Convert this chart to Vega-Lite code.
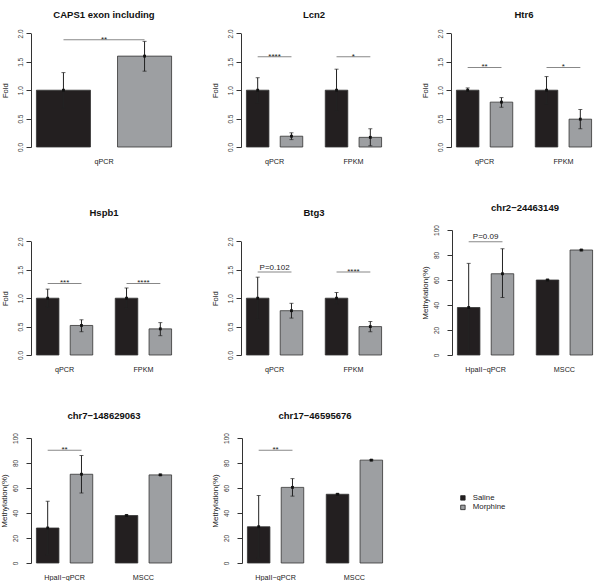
{
  "$schema": "https://vega.github.io/schema/vega-lite/v6.json",
  "padding": {"top": 9, "left": 0, "right": 0, "bottom": 0},
  "background": "white",
  "spacing": 37,
  "resolve": {"scale": {"x": "independent", "y": "independent", "xOffset": "independent", "color": "shared"}},
  "datasets": {
    "bars": [
      {"panel": "caps", "group": "qPCR", "trt": "Saline", "mean": 1.0, "lo": 0.69, "hi": 1.31},
      {"panel": "caps", "group": "qPCR", "trt": "Morphine", "mean": 1.6, "lo": 1.335, "hi": 1.86},
      {"panel": "lcn2", "group": "qPCR", "trt": "Saline", "mean": 1.0, "lo": 0.78, "hi": 1.22},
      {"panel": "lcn2", "group": "qPCR", "trt": "Morphine", "mean": 0.19, "lo": 0.13, "hi": 0.25},
      {"panel": "lcn2", "group": "FPKM", "trt": "Saline", "mean": 1.0, "lo": 0.63, "hi": 1.37},
      {"panel": "lcn2", "group": "FPKM", "trt": "Morphine", "mean": 0.17, "lo": 0.02, "hi": 0.32},
      {"panel": "htr6", "group": "qPCR", "trt": "Saline", "mean": 1.0, "lo": 0.96, "hi": 1.04},
      {"panel": "htr6", "group": "qPCR", "trt": "Morphine", "mean": 0.79, "lo": 0.7, "hi": 0.87},
      {"panel": "htr6", "group": "FPKM", "trt": "Saline", "mean": 1.0, "lo": 0.76, "hi": 1.24},
      {"panel": "htr6", "group": "FPKM", "trt": "Morphine", "mean": 0.49, "lo": 0.32, "hi": 0.66},
      {"panel": "hspb1", "group": "qPCR", "trt": "Saline", "mean": 1.0, "lo": 0.84, "hi": 1.16},
      {"panel": "hspb1", "group": "qPCR", "trt": "Morphine", "mean": 0.52, "lo": 0.41, "hi": 0.62},
      {"panel": "hspb1", "group": "FPKM", "trt": "Saline", "mean": 1.0, "lo": 0.82, "hi": 1.18},
      {"panel": "hspb1", "group": "FPKM", "trt": "Morphine", "mean": 0.46, "lo": 0.34, "hi": 0.57},
      {"panel": "btg3", "group": "qPCR", "trt": "Saline", "mean": 1.0, "lo": 0.63, "hi": 1.37},
      {"panel": "btg3", "group": "qPCR", "trt": "Morphine", "mean": 0.78, "lo": 0.65, "hi": 0.91},
      {"panel": "btg3", "group": "FPKM", "trt": "Saline", "mean": 1.0, "lo": 0.9, "hi": 1.1},
      {"panel": "btg3", "group": "FPKM", "trt": "Morphine", "mean": 0.5, "lo": 0.41, "hi": 0.59},
      {"panel": "chr2", "group": "HpaII−qPCR", "trt": "Saline", "mean": 38, "lo": 2.7, "hi": 73.3},
      {"panel": "chr2", "group": "HpaII−qPCR", "trt": "Morphine", "mean": 65, "lo": 46, "hi": 85},
      {"panel": "chr2", "group": "MSCC", "trt": "Saline", "mean": 60, "lo": 59.5, "hi": 60.5},
      {"panel": "chr2", "group": "MSCC", "trt": "Morphine", "mean": 84, "lo": 83.5, "hi": 84.5},
      {"panel": "chr7", "group": "HpaII−qPCR", "trt": "Saline", "mean": 28, "lo": 6.6, "hi": 49.4},
      {"panel": "chr7", "group": "HpaII−qPCR", "trt": "Morphine", "mean": 71, "lo": 56, "hi": 86},
      {"panel": "chr7", "group": "MSCC", "trt": "Saline", "mean": 38, "lo": 37.6, "hi": 38.4},
      {"panel": "chr7", "group": "MSCC", "trt": "Morphine", "mean": 70.5, "lo": 70, "hi": 71},
      {"panel": "chr17", "group": "HpaII−qPCR", "trt": "Saline", "mean": 29, "lo": 4, "hi": 54},
      {"panel": "chr17", "group": "HpaII−qPCR", "trt": "Morphine", "mean": 60.5, "lo": 53.5, "hi": 67.5},
      {"panel": "chr17", "group": "MSCC", "trt": "Saline", "mean": 55, "lo": 54.6, "hi": 55.4},
      {"panel": "chr17", "group": "MSCC", "trt": "Morphine", "mean": 82.3, "lo": 81.8, "hi": 82.8}
    ],
    "sig": [
      {"panel": "caps", "group": "qPCR", "y": 1.89, "label": "**", "kind": "s"},
      {"panel": "lcn2", "group": "qPCR", "y": 1.59, "label": "****", "kind": "s"},
      {"panel": "lcn2", "group": "FPKM", "y": 1.59, "label": "*", "kind": "s"},
      {"panel": "htr6", "group": "qPCR", "y": 1.4, "label": "**", "kind": "s"},
      {"panel": "htr6", "group": "FPKM", "y": 1.4, "label": "*", "kind": "s"},
      {"panel": "hspb1", "group": "qPCR", "y": 1.26, "label": "***", "kind": "s"},
      {"panel": "hspb1", "group": "FPKM", "y": 1.26, "label": "****", "kind": "s"},
      {"panel": "btg3", "group": "qPCR", "y": 1.46, "label": "P=0.102", "kind": "p"},
      {"panel": "btg3", "group": "FPKM", "y": 1.46, "label": "****", "kind": "s"},
      {"panel": "chr2", "group": "HpaII−qPCR", "y": 90.6, "label": "P=0.09", "kind": "p"},
      {"panel": "chr7", "group": "HpaII−qPCR", "y": 90.3, "label": "**", "kind": "s"},
      {"panel": "chr17", "group": "HpaII−qPCR", "y": 90.3, "label": "**", "kind": "s"}
    ]
  },
  "config": {
    "view": {"stroke": null},
    "font": "Liberation Sans",
    "title": {"fontSize": 9.5, "fontWeight": "bold", "font": "Liberation Sans", "color": "#111", "offset": 12.5},
    "axis": {"labelOverlap": false},
    "axisX": {"domain": false, "ticks": false, "tickSize": 0, "labelPadding": 10, "labelFontSize": 7.2, "labelAngle": 0, "labelColor": "#1a1a1a", "labelFont": "Liberation Sans"},
    "axisY": {"grid": false, "labelAngle": 270, "labelAlign": "center", "labelBaseline": "bottom", "labelOverlap": false, "labelFontSize": 6.5, "labelPadding": 3, "tickSize": 5, "minExtent": 16, "maxExtent": 16, "tickColor": "#333", "domainColor": "#333", "labelColor": "#333", "labelFont": "Liberation Sans", "titleFont": "Liberation Sans", "titleFontSize": 7.5, "titleFontWeight": "normal", "titleColor": "#1a1a1a", "titlePadding": 6},
    "legend": {"orient": "none", "legendX": 428, "legendY": 472, "symbolType": "square", "symbolSize": 20, "symbolStrokeWidth": 0.8, "symbolStrokeColor": "#222", "labelFontSize": 7.8, "labelFont": "Liberation Sans", "labelColor": "#1a1a1a", "rowPadding": 0.5, "labelOffset": 6, "padding": 0},
    "concat": {"spacing": 34}
  },
  "vconcat": [
    {"spacing": 34, "resolve": {"scale": {"x": "independent", "y": "independent", "xOffset": "independent", "color": "shared"}}, "hconcat": [
      {"title": {"text": "CAPS1 exon including", "offset": 3}, "width": 146, "height": 125,
       "encoding": {"x": {"field": "group", "type": "nominal", "title": null, "scale": {"domain": ["qPCR"], "paddingInner": 0, "paddingOuter": 0.04}}},
       "layer": [
        {"data": {"name": "bars"}, "transform": [{"filter": "datum.panel === 'caps'"}], "layer": [
          {"mark": {"type": "bar", "stroke": "#333", "strokeWidth": 0.8}, "encoding": {"xOffset": {"field": "trt", "type": "nominal", "scale": {"domain": ["Saline", "Morphine"], "paddingInner": 0.3333, "paddingOuter": 0}}, "y": {"field": "mean", "type": "quantitative", "title": "Fold", "scale": {"domain": [0, 2], "range": [125, 11.4], "nice": false}, "axis": {"values": [0, 0.5, 1, 1.5, 2], "format": ".1f", "labelOverlap": false}}, "color": {"field": "trt", "type": "nominal", "scale": {"domain": ["Saline", "Morphine"], "range": ["#231f20", "#9d9fa2"]}, "legend": {"title": null}}}},
          {"mark": {"type": "rule", "color": "#222", "strokeWidth": 1}, "encoding": {"xOffset": {"field": "trt", "type": "nominal", "scale": {"domain": ["Saline", "Morphine"], "paddingInner": 0.3333, "paddingOuter": 0}}, "y": {"field": "lo", "type": "quantitative", "title": "Fold", "scale": {"domain": [0, 2], "range": [125, 11.4], "nice": false}, "axis": {"values": [0, 0.5, 1, 1.5, 2], "format": ".1f", "labelOverlap": false}}, "y2": {"field": "hi"}}},
          {"mark": {"type": "tick", "color": "#222", "size": 4, "thickness": 1}, "encoding": {"xOffset": {"field": "trt", "type": "nominal", "scale": {"domain": ["Saline", "Morphine"], "paddingInner": 0.3333, "paddingOuter": 0}}, "y": {"field": "lo", "type": "quantitative", "title": "Fold", "scale": {"domain": [0, 2], "range": [125, 11.4], "nice": false}, "axis": {"values": [0, 0.5, 1, 1.5, 2], "format": ".1f", "labelOverlap": false}}}},
          {"mark": {"type": "tick", "color": "#222", "size": 4, "thickness": 1}, "encoding": {"xOffset": {"field": "trt", "type": "nominal", "scale": {"domain": ["Saline", "Morphine"], "paddingInner": 0.3333, "paddingOuter": 0}}, "y": {"field": "hi", "type": "quantitative", "title": "Fold", "scale": {"domain": [0, 2], "range": [125, 11.4], "nice": false}, "axis": {"values": [0, 0.5, 1, 1.5, 2], "format": ".1f", "labelOverlap": false}}}},
          {"mark": {"type": "point", "shape": "square", "filled": true, "size": 8, "color": "#111", "opacity": 1}, "encoding": {"xOffset": {"field": "trt", "type": "nominal", "scale": {"domain": ["Saline", "Morphine"], "paddingInner": 0.3333, "paddingOuter": 0}}, "y": {"field": "mean", "type": "quantitative", "title": "Fold", "scale": {"domain": [0, 2], "range": [125, 11.4], "nice": false}, "axis": {"values": [0, 0.5, 1, 1.5, 2], "format": ".1f", "labelOverlap": false}}}}
        ]},
        {"data": {"name": "sig"}, "transform": [{"filter": "datum.panel === 'caps'"}], "layer": [
          {"mark": {"type": "tick", "color": "#555", "size": 81, "thickness": 1}, "encoding": {"y": {"field": "y", "type": "quantitative", "title": "Fold", "scale": {"domain": [0, 2], "range": [125, 11.4], "nice": false}, "axis": {"values": [0, 0.5, 1, 1.5, 2], "format": ".1f", "labelOverlap": false}}}},
          {"transform": [{"filter": "datum.kind === 's'"}], "mark": {"type": "text", "fontSize": 8, "dy": 2, "baseline": "alphabetic", "color": "#222"}, "encoding": {"y": {"field": "y", "type": "quantitative", "title": "Fold", "scale": {"domain": [0, 2], "range": [125, 11.4], "nice": false}, "axis": {"values": [0, 0.5, 1, 1.5, 2], "format": ".1f", "labelOverlap": false}}, "text": {"field": "label"}}}
        ]}
       ]},
      {"title": {"text": "Lcn2", "offset": 3}, "width": 146, "height": 125,
       "encoding": {"x": {"field": "group", "type": "nominal", "title": null, "scale": {"domain": ["qPCR", "FPKM"], "paddingInner": 0.2857, "paddingOuter": 0.0686}}},
       "layer": [
        {"data": {"name": "bars"}, "transform": [{"filter": "datum.panel === 'lcn2'"}], "layer": [
          {"mark": {"type": "bar", "stroke": "#333", "strokeWidth": 0.8}, "encoding": {"xOffset": {"field": "trt", "type": "nominal", "scale": {"domain": ["Saline", "Morphine"], "paddingInner": 0.3333, "paddingOuter": 0}}, "y": {"field": "mean", "type": "quantitative", "title": "Fold", "scale": {"domain": [0, 2], "range": [125, 11.4], "nice": false}, "axis": {"values": [0, 0.5, 1, 1.5, 2], "format": ".1f", "labelOverlap": false}}, "color": {"field": "trt", "type": "nominal", "scale": {"domain": ["Saline", "Morphine"], "range": ["#231f20", "#9d9fa2"]}, "legend": {"title": null}}}},
          {"mark": {"type": "rule", "color": "#222", "strokeWidth": 1}, "encoding": {"xOffset": {"field": "trt", "type": "nominal", "scale": {"domain": ["Saline", "Morphine"], "paddingInner": 0.3333, "paddingOuter": 0}}, "y": {"field": "lo", "type": "quantitative", "title": "Fold", "scale": {"domain": [0, 2], "range": [125, 11.4], "nice": false}, "axis": {"values": [0, 0.5, 1, 1.5, 2], "format": ".1f", "labelOverlap": false}}, "y2": {"field": "hi"}}},
          {"mark": {"type": "tick", "color": "#222", "size": 4, "thickness": 1}, "encoding": {"xOffset": {"field": "trt", "type": "nominal", "scale": {"domain": ["Saline", "Morphine"], "paddingInner": 0.3333, "paddingOuter": 0}}, "y": {"field": "lo", "type": "quantitative", "title": "Fold", "scale": {"domain": [0, 2], "range": [125, 11.4], "nice": false}, "axis": {"values": [0, 0.5, 1, 1.5, 2], "format": ".1f", "labelOverlap": false}}}},
          {"mark": {"type": "tick", "color": "#222", "size": 4, "thickness": 1}, "encoding": {"xOffset": {"field": "trt", "type": "nominal", "scale": {"domain": ["Saline", "Morphine"], "paddingInner": 0.3333, "paddingOuter": 0}}, "y": {"field": "hi", "type": "quantitative", "title": "Fold", "scale": {"domain": [0, 2], "range": [125, 11.4], "nice": false}, "axis": {"values": [0, 0.5, 1, 1.5, 2], "format": ".1f", "labelOverlap": false}}}},
          {"mark": {"type": "point", "shape": "square", "filled": true, "size": 8, "color": "#111", "opacity": 1}, "encoding": {"xOffset": {"field": "trt", "type": "nominal", "scale": {"domain": ["Saline", "Morphine"], "paddingInner": 0.3333, "paddingOuter": 0}}, "y": {"field": "mean", "type": "quantitative", "title": "Fold", "scale": {"domain": [0, 2], "range": [125, 11.4], "nice": false}, "axis": {"values": [0, 0.5, 1, 1.5, 2], "format": ".1f", "labelOverlap": false}}}}
        ]},
        {"data": {"name": "sig"}, "transform": [{"filter": "datum.panel === 'lcn2'"}], "layer": [
          {"mark": {"type": "tick", "color": "#555", "size": 33.8, "thickness": 1}, "encoding": {"y": {"field": "y", "type": "quantitative", "title": "Fold", "scale": {"domain": [0, 2], "range": [125, 11.4], "nice": false}, "axis": {"values": [0, 0.5, 1, 1.5, 2], "format": ".1f", "labelOverlap": false}}}},
          {"transform": [{"filter": "datum.kind === 's'"}], "mark": {"type": "text", "fontSize": 8, "dy": 2, "baseline": "alphabetic", "color": "#222"}, "encoding": {"y": {"field": "y", "type": "quantitative", "title": "Fold", "scale": {"domain": [0, 2], "range": [125, 11.4], "nice": false}, "axis": {"values": [0, 0.5, 1, 1.5, 2], "format": ".1f", "labelOverlap": false}}, "text": {"field": "label"}}}
        ]}
       ]},
      {"title": {"text": "Htr6", "offset": 3}, "width": 146, "height": 125,
       "encoding": {"x": {"field": "group", "type": "nominal", "title": null, "scale": {"domain": ["qPCR", "FPKM"], "paddingInner": 0.2857, "paddingOuter": 0.0686}}},
       "layer": [
        {"data": {"name": "bars"}, "transform": [{"filter": "datum.panel === 'htr6'"}], "layer": [
          {"mark": {"type": "bar", "stroke": "#333", "strokeWidth": 0.8}, "encoding": {"xOffset": {"field": "trt", "type": "nominal", "scale": {"domain": ["Saline", "Morphine"], "paddingInner": 0.3333, "paddingOuter": 0}}, "y": {"field": "mean", "type": "quantitative", "title": "Fold", "scale": {"domain": [0, 2], "range": [125, 11.4], "nice": false}, "axis": {"values": [0, 0.5, 1, 1.5, 2], "format": ".1f", "labelOverlap": false}}, "color": {"field": "trt", "type": "nominal", "scale": {"domain": ["Saline", "Morphine"], "range": ["#231f20", "#9d9fa2"]}, "legend": {"title": null}}}},
          {"mark": {"type": "rule", "color": "#222", "strokeWidth": 1}, "encoding": {"xOffset": {"field": "trt", "type": "nominal", "scale": {"domain": ["Saline", "Morphine"], "paddingInner": 0.3333, "paddingOuter": 0}}, "y": {"field": "lo", "type": "quantitative", "title": "Fold", "scale": {"domain": [0, 2], "range": [125, 11.4], "nice": false}, "axis": {"values": [0, 0.5, 1, 1.5, 2], "format": ".1f", "labelOverlap": false}}, "y2": {"field": "hi"}}},
          {"mark": {"type": "tick", "color": "#222", "size": 4, "thickness": 1}, "encoding": {"xOffset": {"field": "trt", "type": "nominal", "scale": {"domain": ["Saline", "Morphine"], "paddingInner": 0.3333, "paddingOuter": 0}}, "y": {"field": "lo", "type": "quantitative", "title": "Fold", "scale": {"domain": [0, 2], "range": [125, 11.4], "nice": false}, "axis": {"values": [0, 0.5, 1, 1.5, 2], "format": ".1f", "labelOverlap": false}}}},
          {"mark": {"type": "tick", "color": "#222", "size": 4, "thickness": 1}, "encoding": {"xOffset": {"field": "trt", "type": "nominal", "scale": {"domain": ["Saline", "Morphine"], "paddingInner": 0.3333, "paddingOuter": 0}}, "y": {"field": "hi", "type": "quantitative", "title": "Fold", "scale": {"domain": [0, 2], "range": [125, 11.4], "nice": false}, "axis": {"values": [0, 0.5, 1, 1.5, 2], "format": ".1f", "labelOverlap": false}}}},
          {"mark": {"type": "point", "shape": "square", "filled": true, "size": 8, "color": "#111", "opacity": 1}, "encoding": {"xOffset": {"field": "trt", "type": "nominal", "scale": {"domain": ["Saline", "Morphine"], "paddingInner": 0.3333, "paddingOuter": 0}}, "y": {"field": "mean", "type": "quantitative", "title": "Fold", "scale": {"domain": [0, 2], "range": [125, 11.4], "nice": false}, "axis": {"values": [0, 0.5, 1, 1.5, 2], "format": ".1f", "labelOverlap": false}}}}
        ]},
        {"data": {"name": "sig"}, "transform": [{"filter": "datum.panel === 'htr6'"}], "layer": [
          {"mark": {"type": "tick", "color": "#555", "size": 33.8, "thickness": 1}, "encoding": {"y": {"field": "y", "type": "quantitative", "title": "Fold", "scale": {"domain": [0, 2], "range": [125, 11.4], "nice": false}, "axis": {"values": [0, 0.5, 1, 1.5, 2], "format": ".1f", "labelOverlap": false}}}},
          {"transform": [{"filter": "datum.kind === 's'"}], "mark": {"type": "text", "fontSize": 8, "dy": 2, "baseline": "alphabetic", "color": "#222"}, "encoding": {"y": {"field": "y", "type": "quantitative", "title": "Fold", "scale": {"domain": [0, 2], "range": [125, 11.4], "nice": false}, "axis": {"values": [0, 0.5, 1, 1.5, 2], "format": ".1f", "labelOverlap": false}}, "text": {"field": "label"}}}
        ]}
       ]}
    ]},
    {"spacing": 37, "resolve": {"scale": {"x": "independent", "y": "independent", "xOffset": "independent", "color": "shared"}}, "vconcat": [
    {"spacing": 34, "resolve": {"scale": {"x": "independent", "y": "independent", "xOffset": "independent", "color": "shared"}}, "hconcat": [
      {"title": {"text": "Hspb1"}, "width": 146, "height": 125,
       "encoding": {"x": {"field": "group", "type": "nominal", "title": null, "scale": {"domain": ["qPCR", "FPKM"], "paddingInner": 0.2857, "paddingOuter": 0.0686}}},
       "layer": [
        {"data": {"name": "bars"}, "transform": [{"filter": "datum.panel === 'hspb1'"}], "layer": [
          {"mark": {"type": "bar", "stroke": "#333", "strokeWidth": 0.8}, "encoding": {"xOffset": {"field": "trt", "type": "nominal", "scale": {"domain": ["Saline", "Morphine"], "paddingInner": 0.3333, "paddingOuter": 0}}, "y": {"field": "mean", "type": "quantitative", "title": "Fold", "scale": {"domain": [0, 2], "range": [125, 11.4], "nice": false}, "axis": {"values": [0, 0.5, 1, 1.5, 2], "format": ".1f", "labelOverlap": false}}, "color": {"field": "trt", "type": "nominal", "scale": {"domain": ["Saline", "Morphine"], "range": ["#231f20", "#9d9fa2"]}, "legend": {"title": null}}}},
          {"mark": {"type": "rule", "color": "#222", "strokeWidth": 1}, "encoding": {"xOffset": {"field": "trt", "type": "nominal", "scale": {"domain": ["Saline", "Morphine"], "paddingInner": 0.3333, "paddingOuter": 0}}, "y": {"field": "lo", "type": "quantitative", "title": "Fold", "scale": {"domain": [0, 2], "range": [125, 11.4], "nice": false}, "axis": {"values": [0, 0.5, 1, 1.5, 2], "format": ".1f", "labelOverlap": false}}, "y2": {"field": "hi"}}},
          {"mark": {"type": "tick", "color": "#222", "size": 4, "thickness": 1}, "encoding": {"xOffset": {"field": "trt", "type": "nominal", "scale": {"domain": ["Saline", "Morphine"], "paddingInner": 0.3333, "paddingOuter": 0}}, "y": {"field": "lo", "type": "quantitative", "title": "Fold", "scale": {"domain": [0, 2], "range": [125, 11.4], "nice": false}, "axis": {"values": [0, 0.5, 1, 1.5, 2], "format": ".1f", "labelOverlap": false}}}},
          {"mark": {"type": "tick", "color": "#222", "size": 4, "thickness": 1}, "encoding": {"xOffset": {"field": "trt", "type": "nominal", "scale": {"domain": ["Saline", "Morphine"], "paddingInner": 0.3333, "paddingOuter": 0}}, "y": {"field": "hi", "type": "quantitative", "title": "Fold", "scale": {"domain": [0, 2], "range": [125, 11.4], "nice": false}, "axis": {"values": [0, 0.5, 1, 1.5, 2], "format": ".1f", "labelOverlap": false}}}},
          {"mark": {"type": "point", "shape": "square", "filled": true, "size": 8, "color": "#111", "opacity": 1}, "encoding": {"xOffset": {"field": "trt", "type": "nominal", "scale": {"domain": ["Saline", "Morphine"], "paddingInner": 0.3333, "paddingOuter": 0}}, "y": {"field": "mean", "type": "quantitative", "title": "Fold", "scale": {"domain": [0, 2], "range": [125, 11.4], "nice": false}, "axis": {"values": [0, 0.5, 1, 1.5, 2], "format": ".1f", "labelOverlap": false}}}}
        ]},
        {"data": {"name": "sig"}, "transform": [{"filter": "datum.panel === 'hspb1'"}], "layer": [
          {"mark": {"type": "tick", "color": "#555", "size": 33.8, "thickness": 1}, "encoding": {"y": {"field": "y", "type": "quantitative", "title": "Fold", "scale": {"domain": [0, 2], "range": [125, 11.4], "nice": false}, "axis": {"values": [0, 0.5, 1, 1.5, 2], "format": ".1f", "labelOverlap": false}}}},
          {"transform": [{"filter": "datum.kind === 's'"}], "mark": {"type": "text", "fontSize": 8, "dy": 2, "baseline": "alphabetic", "color": "#222"}, "encoding": {"y": {"field": "y", "type": "quantitative", "title": "Fold", "scale": {"domain": [0, 2], "range": [125, 11.4], "nice": false}, "axis": {"values": [0, 0.5, 1, 1.5, 2], "format": ".1f", "labelOverlap": false}}, "text": {"field": "label"}}}
        ]}
       ]},
      {"title": {"text": "Btg3"}, "width": 146, "height": 125,
       "encoding": {"x": {"field": "group", "type": "nominal", "title": null, "scale": {"domain": ["qPCR", "FPKM"], "paddingInner": 0.2857, "paddingOuter": 0.0686}}},
       "layer": [
        {"data": {"name": "bars"}, "transform": [{"filter": "datum.panel === 'btg3'"}], "layer": [
          {"mark": {"type": "bar", "stroke": "#333", "strokeWidth": 0.8}, "encoding": {"xOffset": {"field": "trt", "type": "nominal", "scale": {"domain": ["Saline", "Morphine"], "paddingInner": 0.3333, "paddingOuter": 0}}, "y": {"field": "mean", "type": "quantitative", "title": "Fold", "scale": {"domain": [0, 2], "range": [125, 11.4], "nice": false}, "axis": {"values": [0, 0.5, 1, 1.5, 2], "format": ".1f", "labelOverlap": false}}, "color": {"field": "trt", "type": "nominal", "scale": {"domain": ["Saline", "Morphine"], "range": ["#231f20", "#9d9fa2"]}, "legend": {"title": null}}}},
          {"mark": {"type": "rule", "color": "#222", "strokeWidth": 1}, "encoding": {"xOffset": {"field": "trt", "type": "nominal", "scale": {"domain": ["Saline", "Morphine"], "paddingInner": 0.3333, "paddingOuter": 0}}, "y": {"field": "lo", "type": "quantitative", "title": "Fold", "scale": {"domain": [0, 2], "range": [125, 11.4], "nice": false}, "axis": {"values": [0, 0.5, 1, 1.5, 2], "format": ".1f", "labelOverlap": false}}, "y2": {"field": "hi"}}},
          {"mark": {"type": "tick", "color": "#222", "size": 4, "thickness": 1}, "encoding": {"xOffset": {"field": "trt", "type": "nominal", "scale": {"domain": ["Saline", "Morphine"], "paddingInner": 0.3333, "paddingOuter": 0}}, "y": {"field": "lo", "type": "quantitative", "title": "Fold", "scale": {"domain": [0, 2], "range": [125, 11.4], "nice": false}, "axis": {"values": [0, 0.5, 1, 1.5, 2], "format": ".1f", "labelOverlap": false}}}},
          {"mark": {"type": "tick", "color": "#222", "size": 4, "thickness": 1}, "encoding": {"xOffset": {"field": "trt", "type": "nominal", "scale": {"domain": ["Saline", "Morphine"], "paddingInner": 0.3333, "paddingOuter": 0}}, "y": {"field": "hi", "type": "quantitative", "title": "Fold", "scale": {"domain": [0, 2], "range": [125, 11.4], "nice": false}, "axis": {"values": [0, 0.5, 1, 1.5, 2], "format": ".1f", "labelOverlap": false}}}},
          {"mark": {"type": "point", "shape": "square", "filled": true, "size": 8, "color": "#111", "opacity": 1}, "encoding": {"xOffset": {"field": "trt", "type": "nominal", "scale": {"domain": ["Saline", "Morphine"], "paddingInner": 0.3333, "paddingOuter": 0}}, "y": {"field": "mean", "type": "quantitative", "title": "Fold", "scale": {"domain": [0, 2], "range": [125, 11.4], "nice": false}, "axis": {"values": [0, 0.5, 1, 1.5, 2], "format": ".1f", "labelOverlap": false}}}}
        ]},
        {"data": {"name": "sig"}, "transform": [{"filter": "datum.panel === 'btg3'"}], "layer": [
          {"mark": {"type": "tick", "color": "#555", "size": 33.8, "thickness": 1}, "encoding": {"y": {"field": "y", "type": "quantitative", "title": "Fold", "scale": {"domain": [0, 2], "range": [125, 11.4], "nice": false}, "axis": {"values": [0, 0.5, 1, 1.5, 2], "format": ".1f", "labelOverlap": false}}}},
          {"transform": [{"filter": "datum.kind === 's'"}], "mark": {"type": "text", "fontSize": 8, "dy": 2, "baseline": "alphabetic", "color": "#222"}, "encoding": {"y": {"field": "y", "type": "quantitative", "title": "Fold", "scale": {"domain": [0, 2], "range": [125, 11.4], "nice": false}, "axis": {"values": [0, 0.5, 1, 1.5, 2], "format": ".1f", "labelOverlap": false}}, "text": {"field": "label"}}},
          {"transform": [{"filter": "datum.kind === 'p'"}], "mark": {"type": "text", "fontSize": 8, "dy": -2.5, "baseline": "alphabetic", "color": "#222"}, "encoding": {"y": {"field": "y", "type": "quantitative", "title": "Fold", "scale": {"domain": [0, 2], "range": [125, 11.4], "nice": false}, "axis": {"values": [0, 0.5, 1, 1.5, 2], "format": ".1f", "labelOverlap": false}}, "text": {"field": "label"}}}
        ]}
       ]},
      {"title": {"text": "chr2−24463149"}, "width": 146, "height": 125,
       "encoding": {"x": {"field": "group", "type": "nominal", "title": null, "scale": {"domain": ["HpaII−qPCR", "MSCC"], "paddingInner": 0.2857, "paddingOuter": 0.0686}}},
       "layer": [
        {"data": {"name": "bars"}, "transform": [{"filter": "datum.panel === 'chr2'"}], "layer": [
          {"mark": {"type": "bar", "stroke": "#333", "strokeWidth": 0.8}, "encoding": {"xOffset": {"field": "trt", "type": "nominal", "scale": {"domain": ["Saline", "Morphine"], "paddingInner": 0.3333, "paddingOuter": 0}}, "y": {"field": "mean", "type": "quantitative", "title": "Methylation(%)", "scale": {"domain": [0, 100], "nice": false}, "axis": {"values": [0, 20, 40, 60, 80, 100], "titleFontSize": 8, "labelOverlap": false, "labelPadding": 7.5, "minExtent": 20, "maxExtent": 20, "titlePadding": 3}}, "color": {"field": "trt", "type": "nominal", "scale": {"domain": ["Saline", "Morphine"], "range": ["#231f20", "#9d9fa2"]}, "legend": {"title": null}}}},
          {"mark": {"type": "rule", "color": "#222", "strokeWidth": 1}, "encoding": {"xOffset": {"field": "trt", "type": "nominal", "scale": {"domain": ["Saline", "Morphine"], "paddingInner": 0.3333, "paddingOuter": 0}}, "y": {"field": "lo", "type": "quantitative", "title": "Methylation(%)", "scale": {"domain": [0, 100], "nice": false}, "axis": {"values": [0, 20, 40, 60, 80, 100], "titleFontSize": 8, "labelOverlap": false, "labelPadding": 7.5, "minExtent": 20, "maxExtent": 20, "titlePadding": 3}}, "y2": {"field": "hi"}}},
          {"mark": {"type": "tick", "color": "#222", "size": 4, "thickness": 1}, "encoding": {"xOffset": {"field": "trt", "type": "nominal", "scale": {"domain": ["Saline", "Morphine"], "paddingInner": 0.3333, "paddingOuter": 0}}, "y": {"field": "lo", "type": "quantitative", "title": "Methylation(%)", "scale": {"domain": [0, 100], "nice": false}, "axis": {"values": [0, 20, 40, 60, 80, 100], "titleFontSize": 8, "labelOverlap": false, "labelPadding": 7.5, "minExtent": 20, "maxExtent": 20, "titlePadding": 3}}}},
          {"mark": {"type": "tick", "color": "#222", "size": 4, "thickness": 1}, "encoding": {"xOffset": {"field": "trt", "type": "nominal", "scale": {"domain": ["Saline", "Morphine"], "paddingInner": 0.3333, "paddingOuter": 0}}, "y": {"field": "hi", "type": "quantitative", "title": "Methylation(%)", "scale": {"domain": [0, 100], "nice": false}, "axis": {"values": [0, 20, 40, 60, 80, 100], "titleFontSize": 8, "labelOverlap": false, "labelPadding": 7.5, "minExtent": 20, "maxExtent": 20, "titlePadding": 3}}}},
          {"mark": {"type": "point", "shape": "square", "filled": true, "size": 8, "color": "#111", "opacity": 1}, "encoding": {"xOffset": {"field": "trt", "type": "nominal", "scale": {"domain": ["Saline", "Morphine"], "paddingInner": 0.3333, "paddingOuter": 0}}, "y": {"field": "mean", "type": "quantitative", "title": "Methylation(%)", "scale": {"domain": [0, 100], "nice": false}, "axis": {"values": [0, 20, 40, 60, 80, 100], "titleFontSize": 8, "labelOverlap": false, "labelPadding": 7.5, "minExtent": 20, "maxExtent": 20, "titlePadding": 3}}}}
        ]},
        {"data": {"name": "sig"}, "transform": [{"filter": "datum.panel === 'chr2'"}], "layer": [
          {"mark": {"type": "tick", "color": "#555", "size": 33.8, "thickness": 1}, "encoding": {"y": {"field": "y", "type": "quantitative", "title": "Methylation(%)", "scale": {"domain": [0, 100], "nice": false}, "axis": {"values": [0, 20, 40, 60, 80, 100], "titleFontSize": 8, "labelOverlap": false, "labelPadding": 7.5, "minExtent": 20, "maxExtent": 20, "titlePadding": 3}}}},
          {"transform": [{"filter": "datum.kind === 'p'"}], "mark": {"type": "text", "fontSize": 8, "dy": -2.5, "baseline": "alphabetic", "color": "#222"}, "encoding": {"y": {"field": "y", "type": "quantitative", "title": "Methylation(%)", "scale": {"domain": [0, 100], "nice": false}, "axis": {"values": [0, 20, 40, 60, 80, 100], "titleFontSize": 8, "labelOverlap": false, "labelPadding": 7.5, "minExtent": 20, "maxExtent": 20, "titlePadding": 3}}, "text": {"field": "label"}}}
        ]}
       ]}
    ]},
    {"spacing": 34, "resolve": {"scale": {"x": "independent", "y": "independent", "xOffset": "independent", "color": "shared"}}, "hconcat": [
      {"title": {"text": "chr7−148629063"}, "width": 146, "height": 125,
       "encoding": {"x": {"field": "group", "type": "nominal", "title": null, "scale": {"domain": ["HpaII−qPCR", "MSCC"], "paddingInner": 0.2857, "paddingOuter": 0.0686}}},
       "layer": [
        {"data": {"name": "bars"}, "transform": [{"filter": "datum.panel === 'chr7'"}], "layer": [
          {"mark": {"type": "bar", "stroke": "#333", "strokeWidth": 0.8}, "encoding": {"xOffset": {"field": "trt", "type": "nominal", "scale": {"domain": ["Saline", "Morphine"], "paddingInner": 0.3333, "paddingOuter": 0}}, "y": {"field": "mean", "type": "quantitative", "title": "Methylation(%)", "scale": {"domain": [0, 100], "nice": false}, "axis": {"values": [0, 20, 40, 60, 80, 100], "titleFontSize": 8, "labelOverlap": false, "labelPadding": 7.5, "minExtent": 20, "maxExtent": 20, "titlePadding": 3}}, "color": {"field": "trt", "type": "nominal", "scale": {"domain": ["Saline", "Morphine"], "range": ["#231f20", "#9d9fa2"]}, "legend": {"title": null}}}},
          {"mark": {"type": "rule", "color": "#222", "strokeWidth": 1}, "encoding": {"xOffset": {"field": "trt", "type": "nominal", "scale": {"domain": ["Saline", "Morphine"], "paddingInner": 0.3333, "paddingOuter": 0}}, "y": {"field": "lo", "type": "quantitative", "title": "Methylation(%)", "scale": {"domain": [0, 100], "nice": false}, "axis": {"values": [0, 20, 40, 60, 80, 100], "titleFontSize": 8, "labelOverlap": false, "labelPadding": 7.5, "minExtent": 20, "maxExtent": 20, "titlePadding": 3}}, "y2": {"field": "hi"}}},
          {"mark": {"type": "tick", "color": "#222", "size": 4, "thickness": 1}, "encoding": {"xOffset": {"field": "trt", "type": "nominal", "scale": {"domain": ["Saline", "Morphine"], "paddingInner": 0.3333, "paddingOuter": 0}}, "y": {"field": "lo", "type": "quantitative", "title": "Methylation(%)", "scale": {"domain": [0, 100], "nice": false}, "axis": {"values": [0, 20, 40, 60, 80, 100], "titleFontSize": 8, "labelOverlap": false, "labelPadding": 7.5, "minExtent": 20, "maxExtent": 20, "titlePadding": 3}}}},
          {"mark": {"type": "tick", "color": "#222", "size": 4, "thickness": 1}, "encoding": {"xOffset": {"field": "trt", "type": "nominal", "scale": {"domain": ["Saline", "Morphine"], "paddingInner": 0.3333, "paddingOuter": 0}}, "y": {"field": "hi", "type": "quantitative", "title": "Methylation(%)", "scale": {"domain": [0, 100], "nice": false}, "axis": {"values": [0, 20, 40, 60, 80, 100], "titleFontSize": 8, "labelOverlap": false, "labelPadding": 7.5, "minExtent": 20, "maxExtent": 20, "titlePadding": 3}}}},
          {"mark": {"type": "point", "shape": "square", "filled": true, "size": 8, "color": "#111", "opacity": 1}, "encoding": {"xOffset": {"field": "trt", "type": "nominal", "scale": {"domain": ["Saline", "Morphine"], "paddingInner": 0.3333, "paddingOuter": 0}}, "y": {"field": "mean", "type": "quantitative", "title": "Methylation(%)", "scale": {"domain": [0, 100], "nice": false}, "axis": {"values": [0, 20, 40, 60, 80, 100], "titleFontSize": 8, "labelOverlap": false, "labelPadding": 7.5, "minExtent": 20, "maxExtent": 20, "titlePadding": 3}}}}
        ]},
        {"data": {"name": "sig"}, "transform": [{"filter": "datum.panel === 'chr7'"}], "layer": [
          {"mark": {"type": "tick", "color": "#555", "size": 33.8, "thickness": 1}, "encoding": {"y": {"field": "y", "type": "quantitative", "title": "Methylation(%)", "scale": {"domain": [0, 100], "nice": false}, "axis": {"values": [0, 20, 40, 60, 80, 100], "titleFontSize": 8, "labelOverlap": false, "labelPadding": 7.5, "minExtent": 20, "maxExtent": 20, "titlePadding": 3}}}},
          {"transform": [{"filter": "datum.kind === 's'"}], "mark": {"type": "text", "fontSize": 8, "dy": 2, "baseline": "alphabetic", "color": "#222"}, "encoding": {"y": {"field": "y", "type": "quantitative", "title": "Methylation(%)", "scale": {"domain": [0, 100], "nice": false}, "axis": {"values": [0, 20, 40, 60, 80, 100], "titleFontSize": 8, "labelOverlap": false, "labelPadding": 7.5, "minExtent": 20, "maxExtent": 20, "titlePadding": 3}}, "text": {"field": "label"}}}
        ]}
       ]},
      {"title": {"text": "chr17−46595676"}, "width": 146, "height": 125,
       "encoding": {"x": {"field": "group", "type": "nominal", "title": null, "scale": {"domain": ["HpaII−qPCR", "MSCC"], "paddingInner": 0.2857, "paddingOuter": 0.0686}}},
       "layer": [
        {"data": {"name": "bars"}, "transform": [{"filter": "datum.panel === 'chr17'"}], "layer": [
          {"mark": {"type": "bar", "stroke": "#333", "strokeWidth": 0.8}, "encoding": {"xOffset": {"field": "trt", "type": "nominal", "scale": {"domain": ["Saline", "Morphine"], "paddingInner": 0.3333, "paddingOuter": 0}}, "y": {"field": "mean", "type": "quantitative", "title": "Methylation(%)", "scale": {"domain": [0, 100], "nice": false}, "axis": {"values": [0, 20, 40, 60, 80, 100], "titleFontSize": 8, "labelOverlap": false, "labelPadding": 7.5, "minExtent": 20, "maxExtent": 20, "titlePadding": 3}}, "color": {"field": "trt", "type": "nominal", "scale": {"domain": ["Saline", "Morphine"], "range": ["#231f20", "#9d9fa2"]}, "legend": {"title": null}}}},
          {"mark": {"type": "rule", "color": "#222", "strokeWidth": 1}, "encoding": {"xOffset": {"field": "trt", "type": "nominal", "scale": {"domain": ["Saline", "Morphine"], "paddingInner": 0.3333, "paddingOuter": 0}}, "y": {"field": "lo", "type": "quantitative", "title": "Methylation(%)", "scale": {"domain": [0, 100], "nice": false}, "axis": {"values": [0, 20, 40, 60, 80, 100], "titleFontSize": 8, "labelOverlap": false, "labelPadding": 7.5, "minExtent": 20, "maxExtent": 20, "titlePadding": 3}}, "y2": {"field": "hi"}}},
          {"mark": {"type": "tick", "color": "#222", "size": 4, "thickness": 1}, "encoding": {"xOffset": {"field": "trt", "type": "nominal", "scale": {"domain": ["Saline", "Morphine"], "paddingInner": 0.3333, "paddingOuter": 0}}, "y": {"field": "lo", "type": "quantitative", "title": "Methylation(%)", "scale": {"domain": [0, 100], "nice": false}, "axis": {"values": [0, 20, 40, 60, 80, 100], "titleFontSize": 8, "labelOverlap": false, "labelPadding": 7.5, "minExtent": 20, "maxExtent": 20, "titlePadding": 3}}}},
          {"mark": {"type": "tick", "color": "#222", "size": 4, "thickness": 1}, "encoding": {"xOffset": {"field": "trt", "type": "nominal", "scale": {"domain": ["Saline", "Morphine"], "paddingInner": 0.3333, "paddingOuter": 0}}, "y": {"field": "hi", "type": "quantitative", "title": "Methylation(%)", "scale": {"domain": [0, 100], "nice": false}, "axis": {"values": [0, 20, 40, 60, 80, 100], "titleFontSize": 8, "labelOverlap": false, "labelPadding": 7.5, "minExtent": 20, "maxExtent": 20, "titlePadding": 3}}}},
          {"mark": {"type": "point", "shape": "square", "filled": true, "size": 8, "color": "#111", "opacity": 1}, "encoding": {"xOffset": {"field": "trt", "type": "nominal", "scale": {"domain": ["Saline", "Morphine"], "paddingInner": 0.3333, "paddingOuter": 0}}, "y": {"field": "mean", "type": "quantitative", "title": "Methylation(%)", "scale": {"domain": [0, 100], "nice": false}, "axis": {"values": [0, 20, 40, 60, 80, 100], "titleFontSize": 8, "labelOverlap": false, "labelPadding": 7.5, "minExtent": 20, "maxExtent": 20, "titlePadding": 3}}}}
        ]},
        {"data": {"name": "sig"}, "transform": [{"filter": "datum.panel === 'chr17'"}], "layer": [
          {"mark": {"type": "tick", "color": "#555", "size": 33.8, "thickness": 1}, "encoding": {"y": {"field": "y", "type": "quantitative", "title": "Methylation(%)", "scale": {"domain": [0, 100], "nice": false}, "axis": {"values": [0, 20, 40, 60, 80, 100], "titleFontSize": 8, "labelOverlap": false, "labelPadding": 7.5, "minExtent": 20, "maxExtent": 20, "titlePadding": 3}}}},
          {"transform": [{"filter": "datum.kind === 's'"}], "mark": {"type": "text", "fontSize": 8, "dy": 2, "baseline": "alphabetic", "color": "#222"}, "encoding": {"y": {"field": "y", "type": "quantitative", "title": "Methylation(%)", "scale": {"domain": [0, 100], "nice": false}, "axis": {"values": [0, 20, 40, 60, 80, 100], "titleFontSize": 8, "labelOverlap": false, "labelPadding": 7.5, "minExtent": 20, "maxExtent": 20, "titlePadding": 3}}, "text": {"field": "label"}}}
        ]}
       ]}
    ]}
    ]}
  ]
}
